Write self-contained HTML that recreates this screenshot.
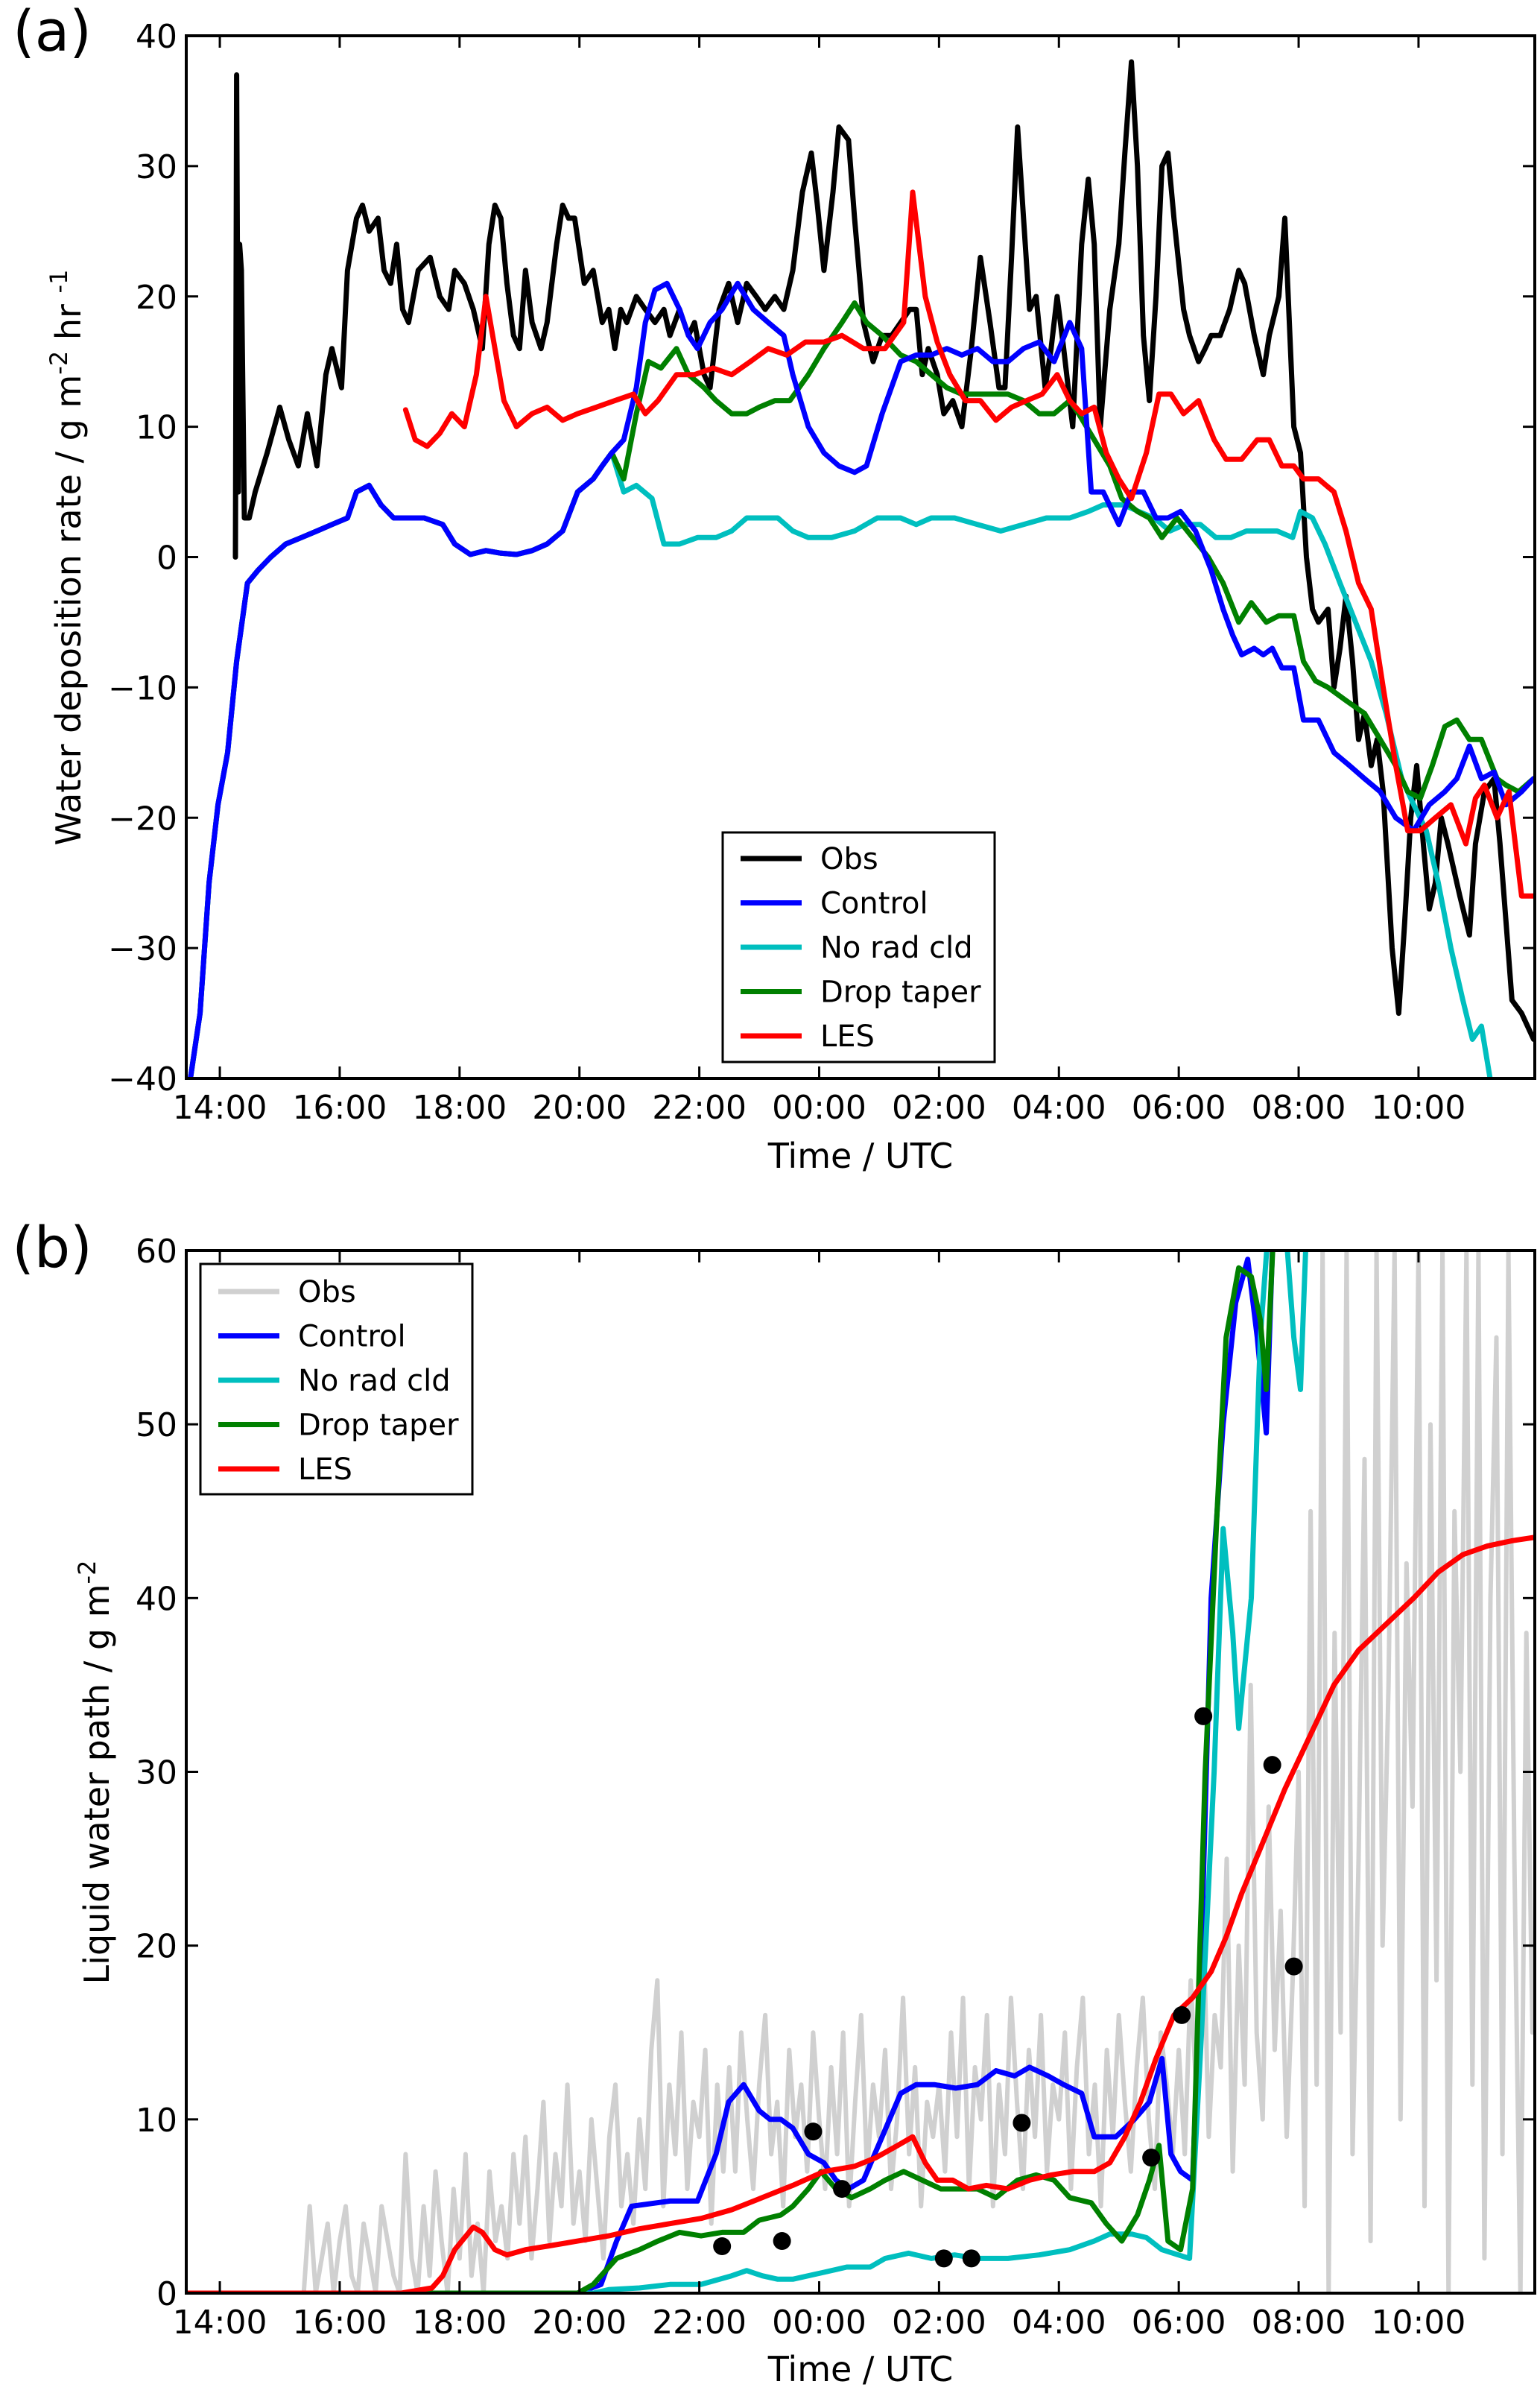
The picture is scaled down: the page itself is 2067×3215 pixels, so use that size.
<!DOCTYPE html>
<html><head><meta charset="utf-8"><style>
html,body{margin:0;padding:0;background:#fff;}
svg{display:block;font-family:"DejaVu Sans","Liberation Sans",sans-serif;}
</style></head><body>
<svg id="fig" width="2067" height="3215" viewBox="0 0 2067 3215" xmlns="http://www.w3.org/2000/svg"></svg>
<script>
// ---------- Panel (a) data ----------
const obsA_t=[14.26,14.28,14.31,14.33,14.36,14.41,14.49,14.59,14.79,15,15.15,15.31,15.46,15.62,15.77,15.87,16.03,16.13,16.28,16.38,16.49,16.64,16.74,16.85,16.95,17.05,17.15,17.31,17.51,17.67,17.82,17.92,18.08,18.23,18.38,18.49,18.59,18.69,18.79,18.9,19,19.1,19.21,19.36,19.46,19.62,19.72,19.82,19.92,20.08,20.23,20.38,20.49,20.59,20.69,20.79,20.95,21.1,21.26,21.41,21.51,21.67,21.82,21.92,22.08,22.18,22.33,22.49,22.64,22.79,22.95,23.1,23.26,23.41,23.56,23.72,23.87,23.97,24.08,24.23,24.33,24.49,24.59,24.74,24.9,25.05,25.21,25.36,25.51,25.62,25.72,25.82,25.97,26.08,26.23,26.38,26.54,26.69,26.85,27,27.1,27.21,27.31,27.41,27.51,27.62,27.77,27.87,27.97,28.08,28.23,28.38,28.49,28.59,28.69,28.85,29,29.1,29.21,29.31,29.41,29.51,29.62,29.72,29.82,29.92,30.08,30.18,30.33,30.44,30.54,30.69,30.85,31,31.1,31.26,31.41,31.51,31.67,31.77,31.92,32.03,32.13,32.23,32.33,32.49,32.59,32.69,32.79,32.9,33,33.1,33.21,33.31,33.41,33.56,33.67,33.77,33.87,33.97,34.08,34.18,34.28,34.38,34.49,34.59,34.69,34.85,34.95,35.1,35.26,35.36,35.46,35.56,35.72,35.92];
const obsA_v=[0,37,5,24,22,3,3,5,8,11.5,9,7,11,7,14,16,13,22,26,27,25,26,22,21,24,19,18,22,23,20,19,22,21,19,16,24,27,26,21,17,16,22,18,16,18,24,27,26,26,21,22,18,19,16,19,18,20,19,18,19,17,19,17,18,14,13,19,21,18,21,20,19,20,19,22,28,31,27,22,28,33,32,26,18,15,17,17,18,19,19,14,16,14,11,12,10,16,23,18,13,13,23,33,26,19,20,13,16,20,16,10,24,29,24,10,19,24,31,38,30,17,12,20,30,31,26,19,17,15,16,17,17,19,22,21,17,14,17,20,26,10,8,0,-4,-5,-4,-10,-7,-3,-8,-14,-12,-16,-14,-18,-30,-35,-28,-20,-16,-22,-27,-25,-20,-22,-24,-26,-29,-22,-18,-17,-22,-28,-34,-35,-37];
const early_t=[13.51,13.67,13.82,13.97,14.13,14.28,14.46,14.64,14.85,15.1,15.36,15.62,15.87,16.13,16.28,16.49,16.69,16.9,17.15,17.41,17.72,17.92,18.18,18.44,18.69,18.95,19.21,19.46,19.72,19.97,20.23,20.38,20.54];
const early_v=[-40,-35,-25,-19,-15,-8,-2,-1,0,1,1.5,2,2.5,3,5,5.5,4,3,3,3,2.5,1,0.2,0.5,0.3,0.2,0.5,1,2,5,6,7,8];
const ctrlA_t=[20.74,20.95,21.1,21.26,21.46,21.67,21.82,21.97,22.18,22.38,22.64,22.9,23.15,23.41,23.56,23.82,24.08,24.33,24.59,24.79,25.05,25.36,25.62,25.87,26.13,26.38,26.64,26.9,27.15,27.41,27.67,27.92,28.18,28.38,28.54,28.74,29,29.21,29.41,29.62,29.82,30.03,30.28,30.54,30.74,30.9,31.05,31.26,31.41,31.56,31.72,31.92,32.08,32.33,32.59,32.85,33.1,33.36,33.62,33.92,34.18,34.44,34.64,34.85,35.05,35.26,35.46,35.72,35.92];
const ctrlA_v=[9,13,18,20.5,21,19,17,16,18,19,21,19,18,17,14,10,8,7,6.5,7,11,15,15.5,15.5,16,15.5,16,15,15,16,16.5,15,18,16,5,5,2.5,5,5,3,3,3.5,2,-1,-4,-6,-7.5,-7,-7.5,-7,-8.5,-8.5,-12.5,-12.5,-15,-16,-17,-18,-20,-21,-19,-18,-17,-14.5,-17,-16.5,-19,-18,-17];
const dropA_t=[20.74,20.95,21.15,21.36,21.62,21.82,22.08,22.28,22.54,22.79,23,23.26,23.51,23.82,24.08,24.38,24.59,24.79,25.05,25.36,25.62,25.87,26.13,26.38,26.64,26.9,27.15,27.41,27.67,27.92,28.18,28.33,28.59,28.85,29.05,29.31,29.51,29.72,29.97,30.23,30.49,30.74,31,31.21,31.46,31.67,31.92,32.08,32.28,32.49,32.79,33.1,33.36,33.62,33.82,34.03,34.23,34.44,34.64,34.85,35.05,35.31,35.46,35.67,35.92];
const dropA_v=[6,11,15,14.5,16,14,13,12,11,11,11.5,12,12,14,16,18,19.5,18,17,15.5,15,14,13,12.5,12.5,12.5,12.5,12,11,11,12,11,9,7,4.5,3.5,3,1.5,3,1.5,0,-2,-5,-3.5,-5,-4.5,-4.5,-8,-9.5,-10,-11,-12,-14,-16,-18,-18.5,-16,-13,-12.5,-14,-14,-17,-17.5,-18,-17];
const norA_t=[20.74,20.95,21.21,21.41,21.67,21.97,22.28,22.54,22.79,23,23.31,23.56,23.82,24.21,24.59,24.97,25.36,25.62,25.87,26.26,26.64,27.03,27.41,27.79,28.18,28.49,28.74,29.08,29.33,29.59,29.85,30.1,30.36,30.62,30.87,31.13,31.38,31.64,31.9,32.03,32.23,32.44,32.69,32.95,33.21,33.46,33.72,33.92,34.13,34.33,34.54,34.74,34.9,35.05,35.23];
const norA_v=[5,5.5,4.5,1,1,1.5,1.5,2,3,3,3,2,1.5,1.5,2,3,3,2.5,3,3,2.5,2,2.5,3,3,3.5,4,4,3.5,3,2,2.5,2.5,1.5,1.5,2,2,2,1.5,3.5,3,1,-2,-5,-8,-12,-17,-19,-21,-25,-30,-34,-37,-36,-41];
const lesA_t=[17.1,17.26,17.46,17.67,17.87,18.08,18.28,18.44,18.59,18.74,18.95,19.21,19.46,19.72,19.97,20.28,20.59,20.9,21.1,21.31,21.62,21.92,22.23,22.54,22.85,23.15,23.46,23.77,24.08,24.38,24.74,25.1,25.41,25.56,25.77,25.97,26.18,26.44,26.69,26.95,27.21,27.46,27.72,27.97,28.18,28.38,28.59,28.79,29,29.21,29.46,29.67,29.87,30.08,30.33,30.59,30.79,31.05,31.31,31.51,31.72,31.92,32.08,32.33,32.59,32.79,33,33.21,33.41,33.62,33.82,34.03,34.28,34.54,34.79,34.95,35.1,35.31,35.51,35.72,35.92];
const lesA_v=[11.3,9,8.5,9.5,11,10,14,20,16,12,10,11,11.5,10.5,11,11.5,12,12.5,11,12,14,14,14.5,14,15,16,15.5,16.5,16.5,17,16,16,18,28,20,16.5,14,12,12,10.5,11.5,12,12.5,14,12,11,11.5,8,6,4.5,8,12.5,12.5,11,12,9,7.5,7.5,9,9,7,7,6,6,5,2,-2,-4,-10,-16,-21,-21,-20,-19,-22,-18.5,-17.5,-20,-18,-26,-26];

// ---------- Panel (b) data ----------
const obsB_start=15.4, obsB_step=0.1;
const obsB_v=[0,5,0,2,4,0,3,5,1,0,4,2,0,5,3,1,
0,8,2,0,5,1,7,3,0,6,2,8,1,4,0,7,3,5,2,8,
4,9,2,6,11,3,8,5,12,4,7,3,10,6,2,9,12,5,8,4,
10,6,14,18,5,12,8,15,6,11,9,14,4,12,7,
13,7,15,10,6,12,16,8,11,5,14,9,12,7,15,
10,6,13,8,15,5,11,16,7,12,9,14,6,10,17,8,13,5,11,9,
12,7,15,9,17,6,13,10,16,5,12,8,17,11,6,14,9,16,7,12,
10,15,6,13,17,8,12,5,14,9,16,11,7,13,17,10,6,15,12,8,
14,8,18,11,23,9,16,13,25,7,20,12,35,15,10,28,14,22,9,18,
30,5,45,12,60,0,38,15,60,8,25,48,3,60,20,35,60,10,42,28,
60,5,50,18,60,0,45,30,60,12,60,2,40,55,8,60,25,0,38,15];
const ctrlB_t=[13.4,19.97,20.36,20.62,20.87,21.51,21.97,22.28,22.49,22.74,23,23.18,23.36,23.56,23.82,24.08,24.28,24.49,24.74,25.05,25.36,25.62,25.92,26.28,26.64,26.95,27.26,27.51,27.82,28.08,28.38,28.59,28.95,29.26,29.51,29.72,29.87,30.03,30.23,30.38,30.54,30.74,30.95,31.15,31.31,31.46,31.6];
const ctrlB_v=[0,0,0.5,3,5,5.3,5.3,8,11,12,10.5,10,10,9.5,8,7.5,6.5,6,6.5,9,11.5,12,12,11.8,12,12.8,12.5,13,12.5,12,11.5,9,9,10,11,13.5,8,7,6.5,20,40,50,57,59.5,55,49.5,64];
const dropB_t=[13.4,19.97,20.23,20.62,21,21.31,21.67,22.03,22.38,22.74,23,23.36,23.56,23.82,24.03,24.28,24.54,24.85,25.1,25.41,25.72,26.03,26.33,26.64,26.95,27.31,27.62,27.92,28.18,28.54,28.79,29.05,29.31,29.51,29.67,29.82,30.03,30.23,30.44,30.64,30.79,31,31.21,31.36,31.46,31.62];
const dropB_v=[0,0,0.5,2,2.5,3,3.5,3.3,3.5,3.5,4.2,4.5,5,6,7,6,5.5,6,6.5,7,6.5,6,6,6,5.5,6.5,6.8,6.5,5.5,5.2,4,3,4.5,6.5,8.5,3,2.5,6,30,45,55,59,58.5,56,52,64];
const norB_t=[13.4,20.23,20.49,21,21.51,22.03,22.54,22.79,23.05,23.31,23.56,24.08,24.46,24.85,25.1,25.49,25.87,26.26,26.64,27.15,27.67,28.18,28.59,28.85,29.21,29.46,29.72,30.18,30.38,30.59,30.74,30.9,31,31.21,31.36,31.51,31.77,31.92,32.03,32.16];
const norB_v=[0,0,0.2,0.3,0.5,0.5,1,1.3,1,0.8,0.8,1.2,1.5,1.5,2,2.3,2,2.2,2,2,2.2,2.5,3,3.4,3.4,3.2,2.5,2,15,30,44,38,32.5,40,55,62,62,55,52,64];
const lesB_t=[13.4,17.03,17.54,17.72,17.92,18.23,18.38,18.59,18.79,19.1,19.46,19.97,20.49,21,21.51,22.03,22.54,23.05,23.56,24.08,24.59,24.95,25.31,25.56,25.77,25.97,26.23,26.49,26.79,27.15,27.51,27.87,28.23,28.59,28.85,29.1,29.36,29.62,29.92,30.23,30.54,30.79,31.05,31.41,31.77,32.18,32.59,33,33.46,33.92,34.33,34.74,35.15,35.56,35.95];
const lesB_v=[0,0,0.3,1,2.5,3.8,3.5,2.5,2.2,2.5,2.7,3,3.3,3.7,4,4.3,4.8,5.5,6.2,7,7.3,7.8,8.5,9,7.5,6.5,6.5,6,6.2,6,6.5,6.8,7,7,7.5,9,11,13.5,16,17,18.5,20.5,23,26,29,32,35,37,38.5,40,41.5,42.5,43,43.3,43.5];
const dots_t=[22.38,23.38,23.9,24.38,26.08,26.54,27.38,29.54,30.05,30.41,31.56,31.92];
const dots_v=[2.7,3,9.3,6,2,2,9.8,7.8,16,33.2,30.4,18.8];

const xTickHours=[14,16,18,20,22,24,26,28,30,32,34];
const xTickLabels=["14:00","16:00","18:00","20:00","22:00","00:00","02:00","04:00","06:00","08:00","10:00"];
const yTicksA=[40,30,20,10,0,-10,-20,-30,-40];
const yTicksB=[0,10,20,30,40,50,60];

const NS="http://www.w3.org/2000/svg";
const svg=document.getElementById('fig');
function el(tag,attrs,parent){const e=document.createElementNS(NS,tag);for(const k in attrs)e.setAttribute(k,attrs[k]);(parent||svg).appendChild(e);return e;}
const X0=250,X1=2060,H0=13.44,H1=35.94;
function xs(h){return X0+(h-H0)/(H1-H0)*(X1-X0);}
function fmt(v){return v<0?"\u2212"+Math.abs(v):String(v);}

function panel(id,top,bottom,vmin,vmax,yTicks){
  const ys=v=>bottom-(v-vmin)/(vmax-vmin)*(bottom-top);
  const g=el('g',{});
  
  
  const cp=el('clipPath',{id:'clip-'+id},g);
  el('rect',{x:X0,y:top,width:X1-X0,height:bottom-top},cp);
  const plot=el('g',{'clip-path':'url(#clip-'+id+')'},g);
  
  
  xTickHours.forEach((h,i)=>{
    const x=xs(h);
    const t1=el('line',{x1:x,y1:bottom,x2:x,y2:bottom-16,stroke:'#000','stroke-width':3},g);
    
    
    el('line',{x1:x,y1:top,x2:x,y2:top+16,stroke:'#000','stroke-width':3},g);
    const tx=el('text',{x:x,y:bottom+54,'font-size':44,'text-anchor':'middle'},g);
    tx.textContent=xTickLabels[i];
    
    
  });
  yTicks.forEach(v=>{
    const y=ys(v);
    el('line',{x1:X0,y1:y,x2:X0+16,y2:y,stroke:'#000','stroke-width':3},g);
    el('line',{x1:X1,y1:y,x2:X1-16,y2:y,stroke:'#000','stroke-width':3},g);
    const tx=el('text',{x:X0-12,y:y+16,'font-size':44,'text-anchor':'end'},g);
    tx.textContent=fmt(v);
    
    
  });
  return {g,plot,ys};
}
function line(parent,name,ts,vs,ys,color,w){
  const d=ts.map((t,i)=>(i?'L':'M')+xs(t).toFixed(1)+','+ys(vs[i]).toFixed(1)).join('');
  const p=el('path',{d:d,fill:'none',stroke:color,'stroke-width':w||7,'stroke-linejoin':'round','stroke-linecap':'round'},parent);
  
  
  return p;
}
function frame(top,bottom){
  const r=el('rect',{x:X0,y:top,width:X1-X0,height:bottom-top,fill:'none',stroke:'#000','stroke-width':4});
  
  
}
function legend(x,y,w,h,rowY0,rowDy,items,name){
  const g=el('g',{});
  
  
  el('rect',{x:x,y:y,width:w,height:h,fill:'#fff',stroke:'#000','stroke-width':3},g);
  items.forEach((it,i)=>{
    const yy=rowY0+i*rowDy;
    const e=el('g',{},g);
    
    
    el('line',{x1:x+24,y1:yy,x2:x+106,y2:yy,stroke:it[1],'stroke-width':7},e);
    const t=el('text',{x:x+131,y:yy+14,'font-size':40},e);
    t.textContent=it[0];
  });
}

const A=panel('panel-a',48,1447,-40,40,yTicksA);
line(A.plot,'obs-line',obsA_t,obsA_v,A.ys,'#000');
line(A.plot,'no-rad-cld-line',early_t.concat(norA_t),early_v.concat(norA_v),A.ys,'#00bfbf');
line(A.plot,'drop-taper-line',early_t.concat(dropA_t),early_v.concat(dropA_v),A.ys,'#008000');
line(A.plot,'control-line',early_t.concat(ctrlA_t),early_v.concat(ctrlA_v),A.ys,'#0000ff');
line(A.plot,'les-line',lesA_t,lesA_v,A.ys,'#ff0000');
frame(48,1447);
legend(970,1117,365,308,1152,59.5,[["Obs","#000"],["Control","#0000ff"],["No rad cld","#00bfbf"],["Drop taper","#008000"],["LES","#ff0000"]],'legend-a');

const B=panel('panel-b',1678,3077,0,60,yTicksB);
const obsB_t=obsB_v.map((v,i)=>obsB_start+i*obsB_step);
line(B.plot,'obs-lwp-line',obsB_t,obsB_v,B.ys,'#d0d0d0',6);
line(B.plot,'control-lwp-line',ctrlB_t,ctrlB_v,B.ys,'#0000ff');
line(B.plot,'no-rad-cld-lwp-line',norB_t,norB_v,B.ys,'#00bfbf');
line(B.plot,'drop-taper-lwp-line',dropB_t,dropB_v,B.ys,'#008000');
line(B.plot,'les-lwp-line',lesB_t,lesB_v,B.ys,'#ff0000');
dots_t.forEach((t,i)=>{
  const c=el('circle',{cx:xs(t),cy:B.ys(dots_v[i]),r:12,fill:'#000'},B.plot);
  
  
});
frame(1678,3077);
legend(269,1696,365,309,1733,59.5,[["Obs","#d0d0d0"],["Control","#0000ff"],["No rad cld","#00bfbf"],["Drop taper","#008000"],["LES","#ff0000"]],'legend-b');

function txt(x,y,s,size,name){
  const t=el('text',{x:x,y:y,'font-size':size,'text-anchor':'middle'});
  t.textContent=s;
  
  
  return t;
}
txt(1155,1567,'Time / UTC',46,'x-axis-title-a');
txt(1155,3195,'Time / UTC',46,'x-axis-title-b');
const ya=el('text',{x:108,y:748,'font-size':46,'text-anchor':'middle',transform:'rotate(-90 108 748)'});


ya.innerHTML='Water deposition rate / g m<tspan dy="-18" font-size="32">-2</tspan><tspan dy="18"> hr </tspan><tspan dy="-18" font-size="32">-1</tspan>';
const yb=el('text',{x:146,y:2378,'font-size':46,'text-anchor':'middle',transform:'rotate(-90 146 2378)'});


yb.innerHTML='Liquid water path / g m<tspan dy="-18" font-size="32">-2</tspan>';
txt(70,68,'(a)',76,'panel-label-a');
txt(70,1700,'(b)',76,'panel-label-b');
</script>
</body></html>
